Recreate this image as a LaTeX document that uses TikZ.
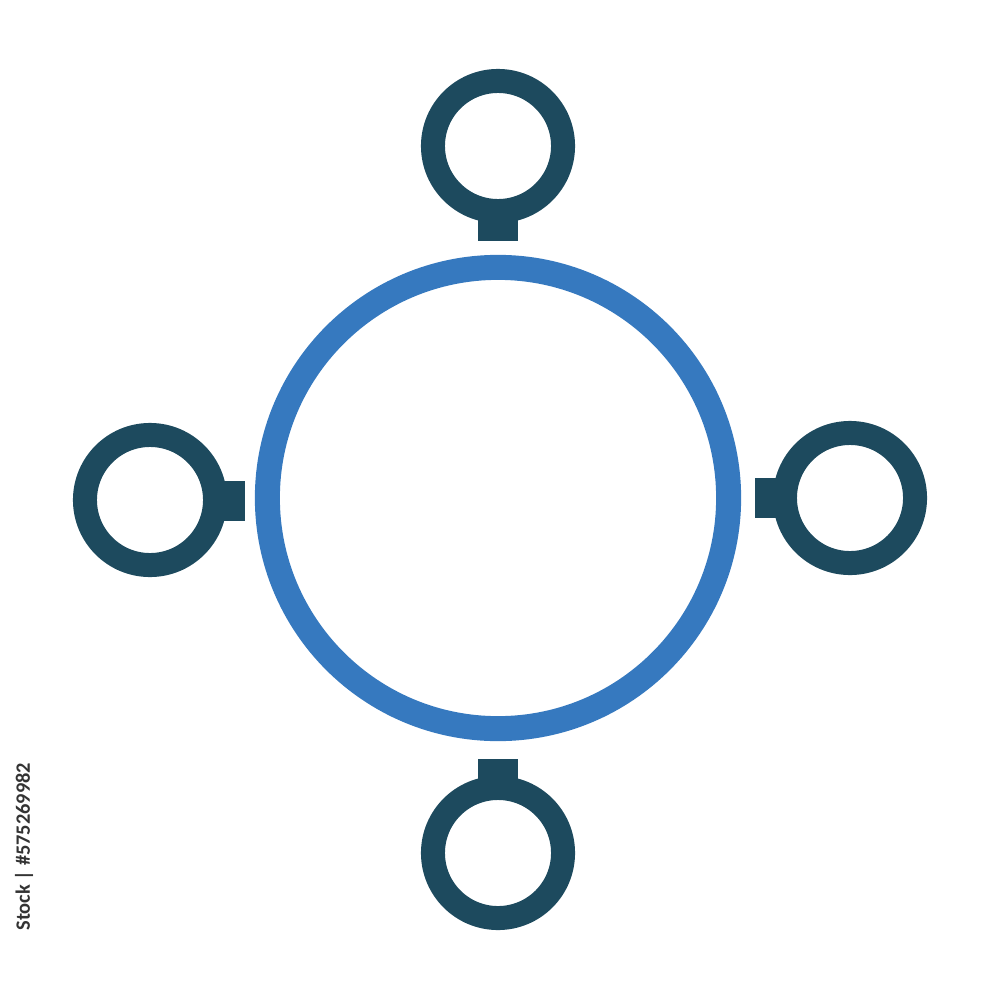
\documentclass[tikz,border=0pt]{standalone}
\usepackage{fontspec}
\newfontfamily\wmfont{Carlito}
\definecolor{hubblue}{HTML}{3679BF}
\definecolor{satteal}{HTML}{1D4A5E}
\begin{document}
\begin{tikzpicture}[x=0.01cm,y=-0.01cm,
  hub/.style={circle,draw=hubblue,line width=2.5mm,minimum size=4.61cm,inner sep=0pt},
  sat/.style={circle,draw=satteal,line width=2.4mm,minimum size=1.30cm,inner sep=0pt},
  stem/.style={fill=satteal,draw=none}]
\useasboundingbox (0,0) rectangle (1000,1000);
\node[hub] (hub) at (498,498) {};
\node[sat] (top) at (498,146) {};
\node[sat] (left) at (150,500) {};
\node[sat] (right) at (850,498) {};
\node[sat] (bottom) at (498,853) {};
\fill[stem] (478,200) rectangle (518,241);
\fill[stem] (205,481) rectangle (245,521);
\fill[stem] (755,478) rectangle (795,518);
\fill[stem] (478,759) rectangle (518,800);
\node[rotate=90,anchor=east,font=\wmfont\bfseries\fontsize{5.8pt}{7pt}\selectfont,text=black!80,inner sep=0pt] (wm) at (24,762) {Stock | \#575269982};
\end{tikzpicture}
\end{document}
